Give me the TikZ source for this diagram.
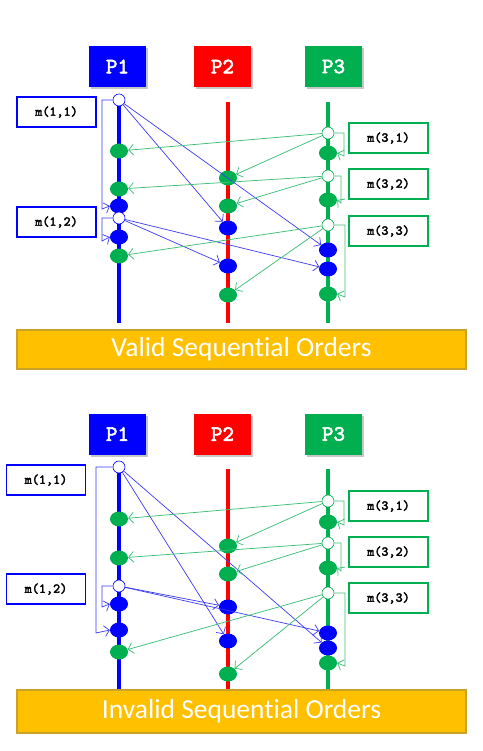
\documentclass[tikz,border=0pt]{standalone}
\usepackage{fontspec}
\setmainfont{Carlito}[Ligatures=NoCommon]
\newfontfamily\cmono{lmmono10-regular}[Extension=.otf, FakeBold=2.5]
\usetikzlibrary{shapes.geometric,arrows.meta,shadows}
\definecolor{pblue}{HTML}{0000FF}
\definecolor{pred}{HTML}{FF0000}
\definecolor{pgreen}{HTML}{00B050}
\definecolor{mblue}{HTML}{3A3AF5}
\definecolor{mgreen}{HTML}{3DBE78}
\definecolor{barfill}{HTML}{FFC000}
\definecolor{barline}{HTML}{C9A227}
\tikzset{
  hdr/.style={minimum width=57pt, minimum height=41pt, inner sep=0pt, text=white,
    font=\cmono\fontsize{22}{22}\selectfont,
    drop shadow={opacity=0.45, shadow xshift=2pt, shadow yshift=-2pt}},
  lbl/.style={draw, line width=1.4pt, fill=white, minimum width=79pt, minimum height=30pt,
    inner sep=0pt, font=\cmono\fontsize{13.5}{14}\selectfont},
  ev/.style={ellipse, minimum width=18pt, minimum height=15pt, inner sep=0pt},
  gev/.style={ev, fill=pgreen},
  bev/.style={ev, fill=pblue},
  sev/.style={circle, minimum size=12pt, inner sep=0pt, fill=white, draw=#1, line width=0.6pt},
  msgb/.style={draw=mblue, line width=0.7pt, -{Straight Barb[length=5pt,width=11pt]}},
  msgg/.style={draw=mgreen, line width=0.75pt, -{Straight Barb[length=5pt,width=11pt]}},
  bar/.style={fill=barfill, draw=barline, line width=1.2pt, minimum width=449pt, inner sep=0pt,
    text=white, font=\fontsize{27.5}{27.5}\selectfont},
}
\begin{document}
\begin{tikzpicture}[x=1pt,y=-1pt]
\useasboundingbox (0,0) rectangle (482,751);
% ===================== TOP PANEL =====================
\node[hdr, fill=pblue]  (aP1) at (117.5,66.5) {P1};
\node[hdr, fill=pred]   (aP2) at (222.5,66.5) {P2};
\node[hdr, fill=pgreen] (aP3) at (333.5,66.5) {P3};
\coordinate (a1t) at (119,102); \coordinate (a1e) at (119,323);
\coordinate (a2t) at (228,102); \coordinate (a2e) at (228,323);
\coordinate (a3t) at (328,102); \coordinate (a3e) at (328,323);
\draw[pblue, line width=4pt] (a1t) -- (a1e);
\draw[pred, line width=3.5pt] (a2t) -- (a2e);
\draw[pgreen, line width=4pt] (a3t) -- (a3e);
\node[bar, minimum height=39pt] (abar) at (241.5,349.5) {Valid Sequential Orders};
% events P1
\node[gev] (a1g1) at (119,151) {};
\node[gev] (a1g2) at (119,189) {};
\node[bev] (a1b1) at (119,206) {};
\node[bev] (a1b2) at (119,237) {};
\node[gev] (a1g3) at (119,256) {};
\node[sev=pblue] (a1s1) at (119,100) {};
\node[sev=pblue] (a1s2) at (119,218) {};
% events P2
\node[gev] (a2g1) at (228,178) {};
\node[gev] (a2g2) at (228,206) {};
\node[bev] (a2b1) at (228,228) {};
\node[bev] (a2b2) at (228,266) {};
\node[gev] (a2g3) at (228,295) {};
% events P3
\node[gev] (a3g1) at (328,153) {};
\node[gev] (a3g2) at (328,200) {};
\node[bev] (a3b1) at (328,250) {};
\node[bev] (a3b2) at (328,269) {};
\node[gev] (a3g3) at (328,294) {};
\node[sev=pgreen] (a3s1) at (328,133) {};
\node[sev=pgreen] (a3s2) at (328,176) {};
\node[sev=pgreen] (a3s3) at (328,225) {};
% labels
\node[lbl, draw=pblue] (al11) at (56.5,112) {m(1,1)};
\node[lbl, draw=pblue] (al12) at (56.5,222) {m(1,2)};
\node[lbl, draw=pgreen] (al31) at (388.5,138) {m(3,1)};
\node[lbl, draw=pgreen] (al32) at (388.5,184) {m(3,2)};
\node[lbl, draw=pgreen] (al33) at (388.5,231) {m(3,3)};
\coordinate (axL) at (102,0);
\coordinate (axR1) at (344,0);
\coordinate (axR2) at (341,0);
\coordinate (axR3) at (345,0);
% messages m(1,1), m(1,2)
\draw[msgb] (a1s1.west) -- (a1s1.west -| axL) -- ([yshift=-3pt]a1b1.west -| axL) -- (a1b1.west);
\draw[msgb] (a1s1) -- (a2b1);
\draw[msgb] (a1s1) -- (a3b1);
\draw[msgb] (a1s2.west) -- (a1s2.west -| axL) -- ([yshift=-4pt]a1b2.west -| axL) -- (a1b2.west);
\draw[msgb] (a1s2) -- (a2b2);
\draw[msgb] (a1s2) -- (a3b2);
% messages m(3,x)
\draw[msgg] (a3s1) -- (a1g1);
\draw[msgg] (a3s1) -- (a2g1);
\draw[msgg] (a3s1.east) -- (a3s1.east -| axR1) -- ([yshift=-3pt]a3g1.east -| axR1) -- (a3g1.east);
\draw[msgg] (a3s2) -- (a1g2);
\draw[msgg] (a3s2) -- (a2g2);
\draw[msgg] (a3s2.east) -- (a3s2.east -| axR2) -- ([yshift=-3pt]a3g2.east -| axR2) -- (a3g2.east);
\draw[msgg] (a3s3) -- (a1g3);
\draw[msgg] (a3s3) -- (a2g3);
\draw[msgg] (a3s3.east) -- (a3s3.east -| axR3) -- ([yshift=-3pt]a3g3.east -| axR3) -- (a3g3.east);
% ===================== BOTTOM PANEL =====================
\node[hdr, fill=pblue]  (bP1) at (117.5,434) {P1};
\node[hdr, fill=pred]   (bP2) at (222.5,434) {P2};
\node[hdr, fill=pgreen] (bP3) at (333.5,434) {P3};
\coordinate (b1t) at (119,469); \coordinate (b1e) at (119,690);
\coordinate (b2t) at (228,469); \coordinate (b2e) at (228,690);
\coordinate (b3t) at (328,469); \coordinate (b3e) at (328,690);
\draw[pblue, line width=4pt] (b1t) -- (b1e);
\draw[pred, line width=3.5pt] (b2t) -- (b2e);
\draw[pgreen, line width=4pt] (b3t) -- (b3e);
\node[bar, minimum height=43pt] (bbar) at (241.5,711.5) {Invalid Sequential Orders};
% events P1
\node[gev] (b1g1) at (119,519) {};
\node[gev] (b1g2) at (119,558) {};
\node[bev] (b1b1) at (119,604) {};
\node[bev] (b1b2) at (119,630) {};
\node[gev] (b1g3) at (119,652) {};
\node[sev=pblue] (b1s1) at (119,467) {};
\node[sev=pblue] (b1s2) at (119,586) {};
% events P2
\node[gev] (b2g1) at (228,546) {};
\node[gev] (b2g2) at (228,574) {};
\node[bev] (b2b1) at (228,607) {};
\node[bev] (b2b2) at (228,641) {};
\node[gev] (b2g3) at (228,674) {};
% events P3
\node[gev] (b3g1) at (328,522) {};
\node[gev] (b3g2) at (328,568) {};
\node[bev] (b3b1) at (328,633) {};
\node[bev] (b3b2) at (328,648) {};
\node[gev] (b3g3) at (328,663) {};
\node[sev=pgreen] (b3s1) at (328,501) {};
\node[sev=pgreen] (b3s2) at (328,543) {};
\node[sev=pgreen] (b3s3) at (328,593) {};
% labels
\node[lbl, draw=pblue] (bl11) at (46,480) {m(1,1)};
\node[lbl, draw=pblue] (bl12) at (46,589) {m(1,2)};
\node[lbl, draw=pgreen] (bl31) at (388.5,506) {m(3,1)};
\node[lbl, draw=pgreen] (bl32) at (388.5,552) {m(3,2)};
\node[lbl, draw=pgreen] (bl33) at (388.5,598) {m(3,3)};
\coordinate (bxL1) at (96,0);
\coordinate (bxL2) at (102,0);
\coordinate (bxR1) at (344,0);
\coordinate (bxR2) at (341,0);
\coordinate (bxR3) at (345,0);
% messages m(1,1), m(1,2)
\draw[msgb] (b1s1.west) -- (b1s1.west -| bxL1) -- ([yshift=-3pt]b1b2.west -| bxL1) -- (b1b2.west);
\draw[msgb] (b1s1) -- (b2b2);
\draw[msgb] (b1s1) -- (b3b2);
\draw[msgb] (b1s2.west) -- (b1s2.west -| bxL2) -- ([yshift=-3pt]b1b1.west -| bxL2) -- (b1b1.west);
\draw[msgb] (b1s2) -- (b2b1);
\draw[msgb] (b1s2) -- (b3b1);
% messages m(3,x)
\draw[msgg] (b3s1) -- (b1g1);
\draw[msgg] (b3s1) -- (b2g1);
\draw[msgg] (b3s1.east) -- (b3s1.east -| bxR1) -- ([yshift=-3pt]b3g1.east -| bxR1) -- (b3g1.east);
\draw[msgg] (b3s2) -- (b1g2);
\draw[msgg] (b3s2) -- (b2g2);
\draw[msgg] (b3s2.east) -- (b3s2.east -| bxR2) -- ([yshift=-3pt]b3g2.east -| bxR2) -- (b3g2.east);
\draw[msgg] (b3s3) -- (b1g3);
\draw[msgg] (b3s3) -- (b2g3);
\draw[msgg] (b3s3.east) -- (b3s3.east -| bxR3) -- ([yshift=-3pt]b3g3.east -| bxR3) -- (b3g3.east);
\end{tikzpicture}
\end{document}
